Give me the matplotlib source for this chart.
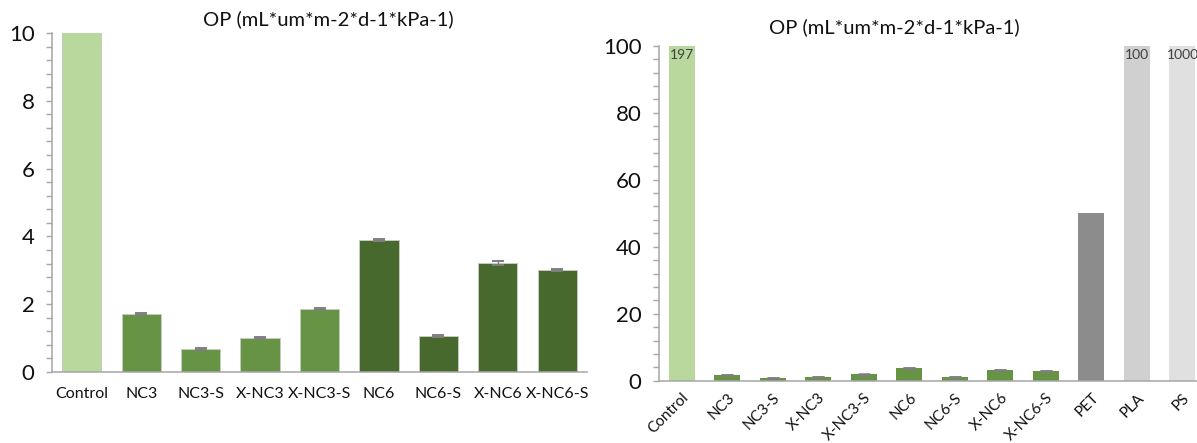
import matplotlib
matplotlib.use("Agg")
import matplotlib.pyplot as plt
from matplotlib.ticker import MultipleLocator

plt.rcParams['font.family'] = ['Lato', 'DejaVu Sans']

# Oxygen permeability of the coated films
samples = ["Control", "NC3", "NC3-S", "X-NC3", "X-NC3-S", "NC6", "NC6-S", "X-NC6", "X-NC6-S"]
op_values = [197, 1.71, 0.68, 1.00, 1.86, 3.89, 1.06, 3.21, 3.01]
op_errors = [0, 0.02, 0.02, 0.02, 0.02, 0.03, 0.02, 0.05, 0.02]

# Commercial reference polymers
ref_names = ["PET", "PLA", "PS"]
ref_values = [50, 100, 1000]

title = "OP (mL*um*m-2*d-1*kPa-1)"

W, H = 1197, 443
fig = plt.figure(figsize=(W / 100, H / 100), dpi=100)

spine_col = "#a6a6a6"
err_col = "#7f7f7f"
c_control = "#b8d89e"
c_nc3 = "#679344"
c_nc6 = "#47692d"


def style_axes(ax, major, minor):
    for s in ("top", "right"):
        ax.spines[s].set_visible(False)
    for s in ("left", "bottom"):
        ax.spines[s].set_color(spine_col)
        ax.spines[s].set_linewidth(1.1)
    ax.yaxis.set_major_locator(MultipleLocator(major))
    ax.yaxis.set_minor_locator(MultipleLocator(minor))
    ax.tick_params(axis="y", which="both", direction="out", length=4.5,
                   width=1.0, color=spine_col, labelsize=16, pad=8,
                   labelcolor="#111111")


# ---- left panel: coated films only ----
ax1 = fig.add_axes([52 / W, (H - 372) / H, 535 / W, 339 / H])
colors1 = [c_control] + [c_nc3] * 4 + [c_nc6] * 4
x1 = range(len(samples))
ax1.bar(x1, op_values, width=0.66, color=colors1, edgecolor="#c6cbc2",
        linewidth=0.7, zorder=2)
ax1.errorbar(list(x1)[1:], op_values[1:], yerr=op_errors[1:], fmt="none",
             ecolor=err_col, elinewidth=1.0, capsize=4, capthick=1.4, zorder=3)
ax1.set_ylim(0, 10)
ax1.set_xlim(-0.5, len(samples) - 0.5)
style_axes(ax1, 2, 0.4)
ax1.set_xticks(list(x1))
ax1.set_xticklabels(samples)
ax1.tick_params(axis="x", length=0, labelsize=11.5, pad=11, labelcolor="#111111")
fig.text(328 / W, 1 - 19 / H, title, ha="center", va="center", fontsize=14.5,
         color="#111111")

# ---- right panel: coated films vs. commercial polymers ----
names2 = samples + ref_names
values2 = op_values + ref_values
colors2 = [c_control] + [c_nc3] * 8 + ["#8c8c8c", "#d0d0d0", "#e0e0e0"]
x2 = list(range(len(names2)))
ax2 = fig.add_axes([659 / W, (H - 380.7) / H, 538 / W, 335 / H])
ax2.bar(x2, values2, width=0.57, color=colors2, zorder=2)
ax2.errorbar(x2[1:len(samples)], op_values[1:], yerr=op_errors[1:], fmt="none",
             ecolor=err_col, elinewidth=1.0, capsize=4, capthick=1.8, zorder=3)
ax2.set_ylim(0, 100)
ax2.set_xlim(-0.5, 11.32)
style_axes(ax2, 20, 4)
ax2.set_xticks(x2)
ax2.set_xticklabels(names2, rotation=45, ha="right", rotation_mode="anchor")
ax2.tick_params(axis="x", length=0, labelsize=11, pad=7, labelcolor="#111111")

# Bars that run past the axis limit carry their true value at the top
for i in (0, 10, 11):
    ax2.text(x2[i], 99, f"{values2[i]:g}", ha="center", va="top",
             fontsize=10, color="#404040", zorder=4)

fig.text(894 / W, 1 - 27 / H, title, ha="center", va="center", fontsize=14.5,
         color="#111111")

fig.savefig("out.png", dpi=100, facecolor="white")
